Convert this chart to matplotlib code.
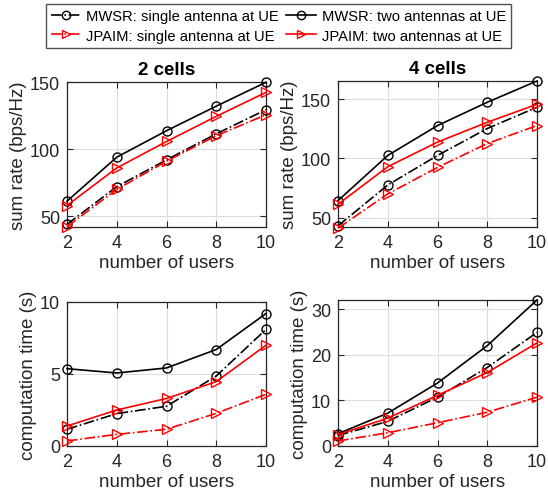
import matplotlib
matplotlib.use("Agg")
import matplotlib.pyplot as plt
from matplotlib.lines import Line2D

plt.rcParams['font.family'] = ['Liberation Sans', 'DejaVu Sans']

users = [2, 4, 6, 8, 10]

# sum rate (bps/Hz), 2 cells
rate2_mwsr_single = [44, 72, 92, 111.4, 129.4]
rate2_mwsr_two = [61.2, 94, 113.7, 132, 149.8]
rate2_jpaim_single = [42.3, 70, 91, 110, 125.6]
rate2_jpaim_two = [58, 86, 105.7, 124.4, 142.3]

# sum rate (bps/Hz), 4 cells
rate4_mwsr_single = [43, 77.5, 102.5, 125.3, 143.3]
rate4_mwsr_two = [64.3, 102.5, 127.8, 147.5, 165.5]
rate4_jpaim_single = [41, 70, 92.4, 112.6, 127.8]
rate4_jpaim_two = [61.2, 93, 113.8, 130.6, 145.8]

# computation time (s), 2 cells
time2_mwsr_single = [1.16, 2.25, 2.76, 4.86, 8.1]
time2_mwsr_two = [5.37, 5.07, 5.42, 6.7, 9.2]
time2_jpaim_single = [0.35, 0.81, 1.16, 2.27, 3.59]
time2_jpaim_two = [1.39, 2.5, 3.3, 4.47, 7.0]

# computation time (s), 4 cells
time4_mwsr_single = [2.3, 5.4, 10.7, 17.2, 24.9]
time4_mwsr_two = [2.7, 7.2, 13.8, 22.0, 32.0]
time4_jpaim_single = [1.1, 2.9, 5.1, 7.4, 10.7]
time4_jpaim_two = [2.5, 6.1, 11.1, 16.1, 22.6]

labels = ["MWSR: single antenna at UE", "MWSR: two antennas at UE",
          "JPAIM: single antenna at UE", "JPAIM: two antennas at UE"]
styles = [dict(color='black', ls='-.', marker='o'),
          dict(color='black', ls='-', marker='o'),
          dict(color='red', ls='-.', marker='>'),
          dict(color='red', ls='-', marker='>')]

W, H = 548, 502
fig = plt.figure(figsize=(W / 100, H / 100), dpi=100)

def px_axes(x0, y0, x1, y1):
    return fig.add_axes([x0 / W, 1 - y1 / H, (x1 - x0) / W, (y1 - y0) / H])

panels = [
    (px_axes(67, 83, 266, 228),
     [rate2_mwsr_single, rate2_mwsr_two, rate2_jpaim_single, rate2_jpaim_two],
     (42, 150), [50, 100, 150], 'sum rate (bps/Hz)', '2 cells'),
    (px_axes(338, 82, 537, 228),
     [rate4_mwsr_single, rate4_mwsr_two, rate4_jpaim_single, rate4_jpaim_two],
     (42, 165.5), [50, 100, 150], 'sum rate (bps/Hz)', '4 cells'),
    (px_axes(67, 303, 266, 447),
     [time2_mwsr_single, time2_mwsr_two, time2_jpaim_single, time2_jpaim_two],
     (0, 10), [0, 5, 10], 'computation time (s)', None),
    (px_axes(338, 301, 537, 447),
     [time4_mwsr_single, time4_mwsr_two, time4_jpaim_single, time4_jpaim_two],
     (0, 32), [0, 10, 20, 30], 'computation time (s)', None),
]

tick_color = '#262626'
for ax, series, ylim, yticks, ylabel, title in panels:
    for vals, st in zip(series, styles):
        ax.plot(users, vals, color=st['color'], ls=st['ls'], marker=st['marker'],
                lw=1.2, ms=6.5, mfc='none', mew=1.0, clip_on=False, zorder=3)
    ax.set_xlim(2, 10)
    ax.set_ylim(*ylim)
    ax.set_xticks(users)
    ax.set_yticks(yticks)
    ax.grid(True, color='#dedede', lw=0.8)
    ax.set_axisbelow(True)
    ax.tick_params(direction='in', top=True, right=True, labelsize=13,
                   colors=tick_color, length=4, pad=5)
    for sp in ax.spines.values():
        sp.set_color(tick_color)
        sp.set_linewidth(0.9)
    ax.set_xlabel('number of users', fontsize=13.5, color=tick_color, labelpad=2)
    ax.set_ylabel(ylabel, fontsize=13.5, color=tick_color, labelpad=2)
    if title:
        ax.set_title(title, fontsize=13.5, fontweight='bold', pad=6)

handles = [Line2D([], [], color=st['color'], ls=st['ls'], marker=st['marker'],
                  lw=1.2, ms=6, mfc='none', mew=1.0) for st in styles]
order = [0, 2, 1, 3]
fig.legend([handles[i] for i in order], [labels[i] for i in order],
           ncol=2, loc='center', bbox_to_anchor=(278.5 / W, 1 - 27 / H),
           fontsize=10.6, frameon=True, fancybox=False, edgecolor='#262626',
           handlelength=2.0, handletextpad=0.4, columnspacing=0.5,
           borderpad=0.35, labelspacing=0.35, borderaxespad=0)

fig.savefig('out.png', dpi=100)
